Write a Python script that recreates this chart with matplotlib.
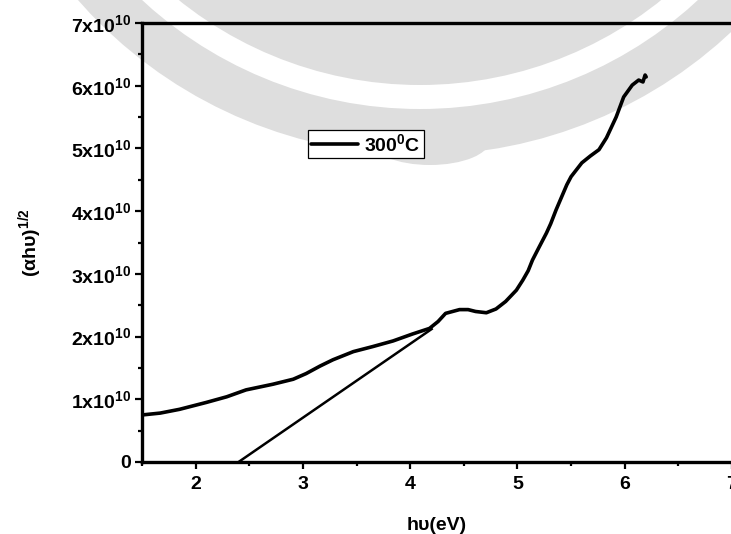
import matplotlib
matplotlib.use("Agg")
import matplotlib.pyplot as plt
from matplotlib.ticker import FuncFormatter, MultipleLocator, AutoMinorLocator
from matplotlib.patches import Ellipse

plt.rcParams['font.family'] = ['Liberation Sans', 'DejaVu Sans']
plt.rcParams['font.weight'] = 'bold'
plt.rcParams['mathtext.fontset'] = 'custom'
plt.rcParams['mathtext.rm'] = 'Liberation Sans:bold'
plt.rcParams['mathtext.it'] = 'Liberation Sans:bold'
plt.rcParams['mathtext.bf'] = 'Liberation Sans:bold'
plt.rcParams['mathtext.default'] = 'rm'

# ---- data (photon energy in eV, (alpha h nu)^1/2 in units of 1e10) ----
energy = [1.50, 1.67, 1.85, 2.10, 2.29, 2.47, 2.72, 2.91, 3.03, 3.16, 3.28,
          3.47, 3.65, 3.84, 4.02, 4.18, 4.26, 4.33, 4.46, 4.54, 4.61, 4.71,
          4.80, 4.89, 4.99, 5.05, 5.10, 5.14, 5.20, 5.27, 5.31, 5.36, 5.42,
          5.46, 5.50, 5.60, 5.68, 5.76, 5.83, 5.92, 5.99, 6.07, 6.13, 6.17,
          6.19, 6.20]
signal_e10 = [0.75, 0.78, 0.84, 0.95, 1.04, 1.15, 1.24, 1.32, 1.41, 1.53, 1.63,
              1.76, 1.84, 1.93, 2.04, 2.13, 2.24, 2.37, 2.43, 2.43, 2.40, 2.38,
              2.44, 2.56, 2.74, 2.90, 3.05, 3.22, 3.42, 3.65, 3.80, 4.02, 4.26,
              4.42, 4.55, 4.77, 4.88, 4.98, 5.17, 5.50, 5.82, 6.01, 6.09, 6.06,
              6.17, 6.14]
tangent_x = [2.40, 4.20]
tangent_y_e10 = [0.0, 2.12]
legend_label = '300$^0$C'

scale = 1e10
signal = [v * scale for v in signal_e10]
tangent_y = [v * scale for v in tangent_y_e10]

W, H = 731, 534
fig = plt.figure(figsize=(W / 100, H / 100), dpi=100)

# ---- faint background watermark (scan artefact) ----
bg = fig.add_axes([0, 0, 1, 1], zorder=0)
bg.set_xlim(0, W)
bg.set_ylim(H, 0)
bg.axis('off')
gray = '#dedede'
cx, cy = 420, -300
bg.add_patch(Ellipse((cx, cy), 2 * 455, 2 * 455, color=gray, lw=0))
bg.add_patch(Ellipse((430, 140), 120, 50, color=gray, lw=0))
bg.add_patch(Ellipse((cx, cy), 2 * 409, 2 * 409, color='white', lw=0))
bg.add_patch(Ellipse((cx, cy), 2 * 385, 2 * 385, color=gray, lw=0))

# ---- main axes ----
left, right, top, bottom = 142, 732, 23, 462
ax = fig.add_axes([left / W, 1 - bottom / H, (right - left) / W, (bottom - top) / H], zorder=1)
ax.patch.set_alpha(0)

ax.plot(energy, signal, color='black', lw=2.6, solid_joinstyle='round',
        solid_capstyle='round', label=legend_label)
ax.plot(tangent_x, tangent_y, color='black', lw=1.8)

ax.set_xlim(1.5, 7.0)
ax.set_ylim(0, 7e10)
ax.xaxis.set_major_locator(MultipleLocator(1))
ax.xaxis.set_minor_locator(AutoMinorLocator(2))
ax.yaxis.set_major_locator(MultipleLocator(1e10))
ax.yaxis.set_minor_locator(AutoMinorLocator(2))


def yfmt(v, pos):
    n = int(round(v / 1e10))
    return '0' if n == 0 else f'{n}x10$^{{10}}$'


ax.yaxis.set_major_formatter(FuncFormatter(yfmt))
ax.xaxis.set_major_formatter(FuncFormatter(lambda v, p: f'{int(round(v))}'))

for s in ['left', 'bottom', 'top']:
    ax.spines[s].set_linewidth(2.4)
    ax.spines[s].set_color('black')
ax.spines['right'].set_visible(False)

ax.tick_params(which='major', direction='out', length=5, width=1.6, labelsize=14, pad=3,
               top=False, right=False)
ax.tick_params(which='minor', direction='out', length=3, width=1.6, top=False, right=False)
ax.tick_params(axis='x', which='major', pad=5)

ax.set_xlabel('hυ(eV)', fontsize=14, fontweight='bold', labelpad=17.5)
ax.set_ylabel('(αhυ)$^{1/2}$', fontsize=14, fontweight='bold', labelpad=19)

leg = ax.legend(loc='upper left', bbox_to_anchor=(308 / W, 1 - 130 / H),
                bbox_transform=fig.transFigure, frameon=True, fancybox=False,
                shadow=False, fontsize=14, handlelength=2.4, handletextpad=0.35,
                borderpad=0.15, borderaxespad=0)
leg.get_frame().set_edgecolor('black')
leg.get_frame().set_linewidth(0.9)
leg.get_frame().set_facecolor('white')
leg.get_frame().set_alpha(1)

fig.savefig('out.png', dpi=100)
